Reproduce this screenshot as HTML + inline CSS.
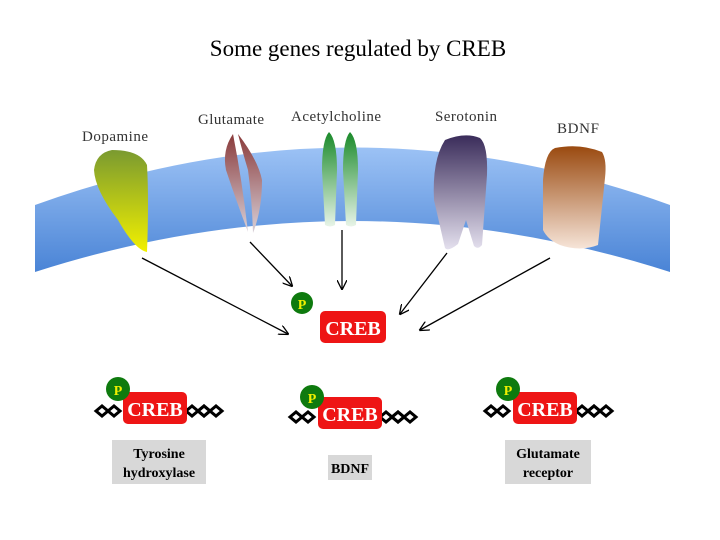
<!DOCTYPE html>
<html><head><style>
body{margin:0;width:720px;height:540px;background:#fff;overflow:hidden}
svg{display:block}
text{font-family:"Liberation Serif",serif}
</style></head><body>
<svg width="720" height="540" viewBox="0 0 720 540">
<defs>
<linearGradient id="mem" x1="0" y1="0" x2="0" y2="1"><stop offset="0" stop-color="#9cc2f5"/><stop offset="1" stop-color="#4a84d6"/></linearGradient>
<linearGradient id="dop" x1="0" y1="0" x2="0" y2="1"><stop offset="0" stop-color="#7a9a30"/><stop offset="1" stop-color="#f2f000"/></linearGradient>
<linearGradient id="glu" x1="0" y1="0" x2="0" y2="1"><stop offset="0" stop-color="#8a3a3a"/><stop offset="1" stop-color="#d8d0d8"/></linearGradient>
<linearGradient id="ach" x1="0" y1="0" x2="0" y2="1"><stop offset="0" stop-color="#1a8a2a"/><stop offset="1" stop-color="#e8f4e8"/></linearGradient>
<linearGradient id="ser" x1="0" y1="0" x2="0" y2="1"><stop offset="0" stop-color="#3a2c5a"/><stop offset="1" stop-color="#e4e0ee"/></linearGradient>
<linearGradient id="bdnf" x1="0" y1="0" x2="0" y2="1"><stop offset="0" stop-color="#9a4a10"/><stop offset="1" stop-color="#f6e4d8"/></linearGradient>
<marker id="ah" markerWidth="10" markerHeight="10" refX="9" refY="5" orient="auto" markerUnits="userSpaceOnUse"><path d="M0,0 L10,5 L0,10" fill="none" stroke="#000" stroke-width="1.3"/></marker>
<g id="dna" fill="none" stroke="#000" stroke-width="3">
<path d="M0,0 l6,-5 l6,5 l-6,5z M12,0 l6,-5 l6,5 l-6,5z"/>
</g>
</defs>
<text x="358" y="56" font-size="23" text-anchor="middle">Some genes regulated by CREB</text>
<path d="M35,205 Q352,90 670,205 L670,272 Q352,170 35,272Z" fill="url(#mem)"/>
<g font-size="15" fill="#333">
<text x="82" y="141" textLength="66">Dopamine</text>
<text x="198" y="124" textLength="66">Glutamate</text>
<text x="291" y="121" textLength="90">Acetylcholine</text>
<text x="435" y="121" textLength="62">Serotonin</text>
<text x="557" y="133" textLength="42">BDNF</text>
</g>
<path d="M112,150 Q140,150 147,165 Q149,200 147,252 Q135,250 118,220 Q95,190 94,170 Q96,153 112,150Z" fill="url(#dop)"/>
<path d="M233,134 Q242,180 248,232 Q236,200 226,170 Q222,150 233,134Z" fill="url(#glu)"/>
<path d="M238,134 Q258,160 262,180 Q262,210 253,233 Q252,200 248,170 Q242,150 238,134Z" fill="url(#glu)"/>
<path d="M329,132 Q337,140 337,170 L335,225 Q330,228 325,225 L322,170 Q322,140 329,132Z" fill="url(#ach)"/>
<path d="M350,132 Q358,140 358,170 L356,225 Q351,228 346,225 L343,170 Q343,140 350,132Z" fill="url(#ach)"/>
<path d="M445,140 Q465,132 480,138 Q488,145 487,175 L482,245 Q478,250 474,246 L466,220 L458,244 Q448,252 445,248 L434,200 Q432,160 445,140Z" fill="url(#ser)"/>
<path d="M555,148 Q580,143 602,152 Q607,160 605,178 L598,245 Q580,252 560,245 Q548,240 543,230 L543,180 Q545,152 555,148Z" fill="url(#bdnf)"/>
<g stroke="#000" stroke-width="1.3" marker-end="url(#ah)">
<line x1="142" y1="258" x2="288" y2="334"/>
<line x1="250" y1="242" x2="292" y2="286"/>
<line x1="342" y1="230" x2="342" y2="289"/>
<line x1="447" y1="253" x2="400" y2="314"/>
<line x1="550" y1="258" x2="420" y2="330"/>
</g>
<g font-weight="bold">
<circle cx="302" cy="303" r="11" fill="#0e7a0e"/><text x="302" y="309" font-size="14" fill="#f0f000" text-anchor="middle">P</text>
<rect x="320" y="311" width="66" height="32" rx="5" fill="#ee1515"/><text x="353" y="335" font-size="20" fill="#fff" text-anchor="middle">CREB</text>

<use href="#dna" x="96" y="411"/><use href="#dna" x="186" y="411"/><use href="#dna" x="198" y="411"/>
<rect x="123" y="392" width="64" height="32" rx="5" fill="#ee1515"/><text x="155" y="416" font-size="20" fill="#fff" text-anchor="middle">CREB</text>
<circle cx="118" cy="389" r="12" fill="#0e7a0e"/><text x="118" y="395" font-size="14" fill="#f0f000" text-anchor="middle">P</text>
<rect x="112" y="440" width="94" height="44" fill="#d8d8d8"/>
<text x="159" y="458" font-size="14" text-anchor="middle">Tyrosine</text><text x="159" y="477" font-size="14" text-anchor="middle">hydroxylase</text>

<use href="#dna" x="290" y="417"/><use href="#dna" x="380" y="417"/><use href="#dna" x="392" y="417"/>
<rect x="318" y="397" width="64" height="32" rx="5" fill="#ee1515"/><text x="350" y="421" font-size="20" fill="#fff" text-anchor="middle">CREB</text>
<circle cx="312" cy="397" r="12" fill="#0e7a0e"/><text x="312" y="403" font-size="14" fill="#f0f000" text-anchor="middle">P</text>
<rect x="328" y="455" width="44" height="25" fill="#d8d8d8"/><text x="350" y="473" font-size="14" text-anchor="middle">BDNF</text>

<use href="#dna" x="485" y="411"/><use href="#dna" x="576" y="411"/><use href="#dna" x="588" y="411"/>
<rect x="513" y="392" width="64" height="32" rx="5" fill="#ee1515"/><text x="545" y="416" font-size="20" fill="#fff" text-anchor="middle">CREB</text>
<circle cx="508" cy="389" r="12" fill="#0e7a0e"/><text x="508" y="395" font-size="14" fill="#f0f000" text-anchor="middle">P</text>
<rect x="505" y="440" width="86" height="44" fill="#d8d8d8"/>
<text x="548" y="458" font-size="14" text-anchor="middle">Glutamate</text><text x="548" y="477" font-size="14" text-anchor="middle">receptor</text>
</g>
</svg>
</body></html>
